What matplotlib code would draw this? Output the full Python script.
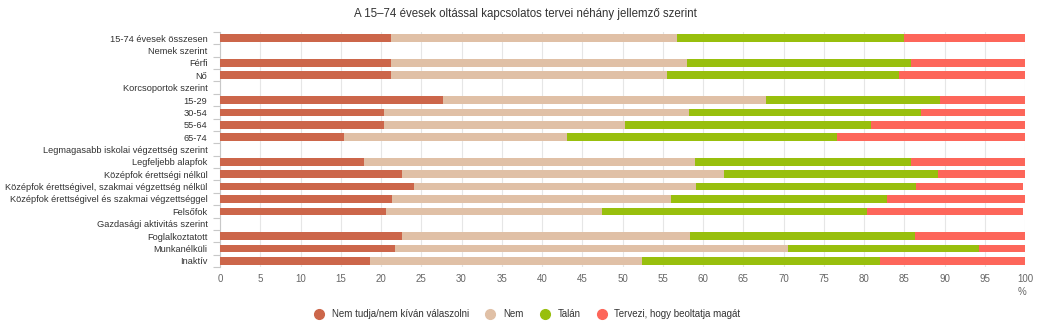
import matplotlib.pyplot as plt
import numpy as np

plt.rcParams['font.family'] = ['Liberation Sans', 'DejaVu Sans']

# sorok (a csoportcímeknek nincs sávja)
labels = [
    "15-74 évesek összesen", "Nemek szerint", "Férfi", "Nő",
    "Korcsoportok szerint", "15-29", "30-54", "55-64", "65-74",
    "Legmagasabb iskolai végzettség szerint", "Legfeljebb alapfok",
    "Középfok érettségi nélkül",
    "Középfok érettségivel, szakmai végzettség nélkül",
    "Középfok érettségivel és szakmai végzettséggel", "Felsőfok",
    "Gazdasági aktivitás szerint", "Foglalkoztatott", "Munkanélküli", "Inaktív",
]

nem_tudja = [21.2, 0, 21.2, 21.2, 0, 27.7, 20.4, 20.4, 15.4, 0, 17.9, 22.6, 24.1, 21.4, 20.6, 0, 22.6, 21.8, 18.6]
nem = [35.6, 0, 36.8, 34.3, 0, 40.1, 37.9, 29.9, 27.7, 0, 41.1, 40.0, 35.0, 34.6, 26.8, 0, 35.8, 48.8, 33.8]
talan = [28.2, 0, 27.8, 28.9, 0, 21.7, 28.8, 30.6, 33.5, 0, 26.9, 26.6, 27.4, 26.9, 33.0, 0, 27.9, 23.7, 29.6]
tervezi = [15.0, 0, 14.2, 15.6, 0, 10.5, 12.9, 19.1, 23.4, 0, 14.1, 10.8, 13.3, 17.1, 19.4, 0, 13.7, 5.7, 18.0]

series = [
    ("Nem tudja/nem kíván válaszolni", nem_tudja, "#cc664a"),
    ("Nem", nem, "#e0c0a6"),
    ("Talán", talan, "#98bf0d"),
    ("Tervezi, hogy beoltatja magát", tervezi, "#fd665a"),
]

fig = plt.figure(figsize=(10.5, 3.28), dpi=100)
ax = fig.add_axes([220 / 1050, 1 - 267 / 328, 805 / 1050, 235 / 328])

y = np.arange(len(labels))
left = np.zeros(len(labels))
for name, vals, col in series:
    vals = np.array(vals)
    ax.barh(y, vals, left=left, height=0.62, color=col, label=name, zorder=3)
    left += vals

ax.set_ylim(len(labels) - 0.5, -0.5)
ax.set_xlim(0, 100)
ax.set_xticks(np.arange(0, 101, 5))
ax.set_yticks(y)
ax.set_yticklabels(labels)
ax.set_yticks(np.arange(-0.5, len(labels), 1), minor=True)
ax.tick_params(axis='y', which='major', length=0, pad=9, labelsize=6.7, labelcolor='#333333')
ax.tick_params(axis='y', which='minor', length=5, color='#c8c8c8', width=0.8)
ax.tick_params(axis='x', length=0, pad=5, labelsize=7, labelcolor='#666666')
ax.grid(axis='x', color='#e6e6e6', linewidth=0.8, zorder=0)

for s in ['top', 'right', 'bottom']:
    ax.spines[s].set_visible(False)
ax.spines['left'].set_color('#c8c8c8')
ax.spines['left'].set_linewidth(0.8)

fig.text(1022 / 1050, 1 - 292 / 328, "%", fontsize=7, color='#666666', ha='center', va='center')
fig.text(0.5, 1 - 14 / 328, "A 15–74 évesek oltással kapcsolatos tervei néhány jellemző szerint",
         fontsize=8.3, color='#333333', ha='center', va='center')

handles = [plt.Line2D([], [], marker='o', linestyle='', markersize=7, color=c) for _, _, c in series]
fig.legend(handles, [n for n, _, _ in series], loc='center', bbox_to_anchor=(0.5, 1 - 314 / 328),
           ncol=4, frameon=False, fontsize=7, handletextpad=0.3, columnspacing=1.2, labelcolor='#333333')

fig.savefig("out.png", dpi=100)
